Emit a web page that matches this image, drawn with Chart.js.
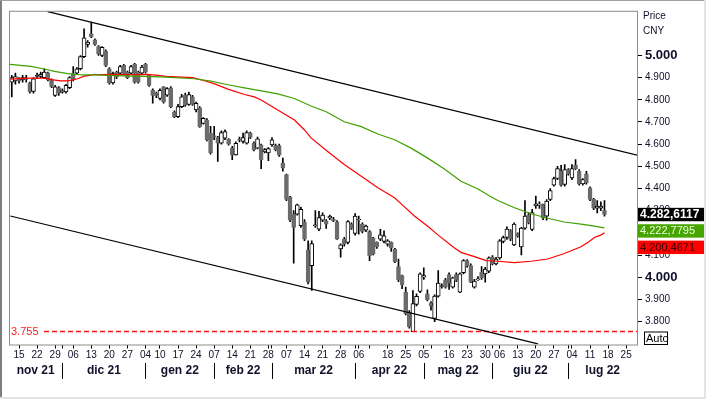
<!DOCTYPE html>
<html>
<head>
<meta charset="utf-8">
<script src="https://cdn.jsdelivr.net/npm/chart.js@4"></script>
<style>
  html, body { margin: 0; padding: 0; background: #fff; }
  canvas { display: block; }
</style>
</head>
<body>
<canvas id="chart" width="706" height="399"></canvas>
<script>
// trading-day index of the first candle (0 = 15 nov 21)
const firstIdx = -2;

const opens = [
  4.880, 4.885, 4.895, 4.890, 4.895, 4.876, 4.838, 4.905, 4.905, 4.900,
  4.920, 4.890, 4.820, 4.855, 4.835, 4.836, 4.855, 4.918, 4.920, 4.940,
  4.995, 5.050, 5.097, 5.070, 5.040, 5.000, 5.020, 4.940, 4.876, 4.925,
  4.920, 4.955, 4.925, 4.920, 4.960, 4.925, 4.920, 4.960, 4.910, 4.843,
  4.830, 4.806, 4.858, 4.821, 4.854, 4.746, 4.724, 4.769, 4.821, 4.779,
  4.813, 4.754, 4.764, 4.694, 4.709, 4.649, 4.639, 4.630, 4.604, 4.627,
  4.622, 4.582, 4.552, 4.622, 4.612, 4.604, 4.649, 4.604, 4.582, 4.597,
  4.565, 4.560, 4.597, 4.594, 4.594, 4.515, 4.463, 4.361, 4.284, 4.284,
  4.232, 4.249, 4.122, 4.052, 4.232, 4.217, 4.257, 4.254, 4.266, 4.262,
  4.250, 4.127, 4.172, 4.157, 4.239, 4.197, 4.258, 4.239, 4.212, 4.206,
  4.176, 4.157, 4.172, 4.161, 4.149, 4.157, 4.127, 4.048, 4.007, 3.933,
  3.843, 3.754, 3.877, 3.936, 4.000, 3.925, 3.884, 3.814, 3.914, 3.958,
  3.988, 4.012, 3.955, 4.012, 3.933, 4.020, 4.075, 4.052, 3.955, 3.988,
  4.022, 4.015, 4.027, 4.090, 4.060, 4.087, 4.161, 4.179, 4.209, 4.146,
  4.197, 4.137, 4.221, 4.281, 4.216, 4.321, 4.325, 4.328, 4.275, 4.351,
  4.415, 4.445, 4.478, 4.418, 4.485, 4.448, 4.505, 4.478, 4.421, 4.466,
  4.403, 4.351, 4.311, 4.311, 4.300
];
const highs = [
  4.910, 4.920, 4.900, 4.910, 4.910, 4.880, 4.900, 4.920, 4.925, 4.940,
  4.925, 4.895, 4.865, 4.860, 4.850, 4.870, 4.905, 4.950, 4.945, 5.000,
  5.120, 5.067, 5.150, 5.075, 5.045, 5.040, 5.025, 4.945, 4.925, 4.930,
  4.955, 4.960, 4.930, 4.955, 4.965, 4.930, 4.955, 4.965, 4.915, 4.850,
  4.835, 4.850, 4.860, 4.855, 4.860, 4.750, 4.780, 4.825, 4.830, 4.835,
  4.820, 4.790, 4.770, 4.720, 4.715, 4.680, 4.680, 4.635, 4.660, 4.665,
  4.625, 4.590, 4.610, 4.632, 4.650, 4.660, 4.655, 4.610, 4.632, 4.600,
  4.580, 4.585, 4.630, 4.600, 4.600, 4.537, 4.465, 4.365, 4.300, 4.330,
  4.316, 4.260, 4.164, 4.164, 4.300, 4.297, 4.290, 4.260, 4.280, 4.270,
  4.255, 4.150, 4.180, 4.255, 4.245, 4.287, 4.276, 4.245, 4.235, 4.210,
  4.180, 4.160, 4.216, 4.209, 4.170, 4.160, 4.130, 4.082, 4.010, 3.955,
  3.850, 3.940, 3.925, 4.020, 4.042, 3.943, 3.890, 3.920, 4.030, 3.970,
  3.995, 4.020, 4.000, 4.020, 4.020, 4.080, 4.080, 4.060, 3.990, 4.003,
  4.048, 4.045, 4.092, 4.097, 4.090, 4.170, 4.185, 4.227, 4.215, 4.245,
  4.200, 4.225, 4.346, 4.290, 4.306, 4.366, 4.340, 4.330, 4.350, 4.400,
  4.452, 4.500, 4.505, 4.508, 4.490, 4.508, 4.530, 4.485, 4.445, 4.478,
  4.408, 4.356, 4.346, 4.340, 4.346
];
const lows = [
  4.813, 4.870, 4.875, 4.880, 4.880, 4.830, 4.830, 4.895, 4.900, 4.895,
  4.885, 4.855, 4.815, 4.820, 4.830, 4.830, 4.850, 4.885, 4.915, 4.935,
  4.990, 5.037, 5.080, 5.045, 5.000, 4.995, 4.950, 4.870, 4.870, 4.895,
  4.915, 4.910, 4.895, 4.915, 4.875, 4.875, 4.915, 4.920, 4.860, 4.785,
  4.810, 4.800, 4.785, 4.815, 4.765, 4.720, 4.720, 4.765, 4.770, 4.775,
  4.775, 4.745, 4.675, 4.690, 4.615, 4.555, 4.620, 4.522, 4.600, 4.620,
  4.595, 4.530, 4.550, 4.610, 4.605, 4.600, 4.625, 4.570, 4.578, 4.490,
  4.560, 4.525, 4.590, 4.570, 4.545, 4.478, 4.345, 4.250, 4.063, 4.280,
  4.225, 4.165, 3.970, 3.940, 4.225, 4.210, 4.250, 4.220, 4.260, 4.250,
  4.170, 4.090, 4.140, 4.150, 4.215, 4.190, 4.194, 4.200, 4.205, 4.075,
  4.100, 4.130, 4.165, 4.155, 4.140, 4.116, 4.065, 3.980, 3.948, 3.830,
  3.770, 3.754, 3.870, 3.930, 3.990, 3.893, 3.851, 3.800, 3.910, 3.950,
  3.950, 3.945, 3.950, 3.980, 3.930, 4.015, 4.045, 3.975, 3.950, 3.985,
  3.990, 3.978, 4.020, 4.055, 4.055, 4.080, 4.155, 4.170, 4.165, 4.142,
  4.180, 4.100, 4.215, 4.240, 4.210, 4.310, 4.310, 4.260, 4.257, 4.345,
  4.410, 4.440, 4.410, 4.410, 4.460, 4.440, 4.485, 4.415, 4.415, 4.420,
  4.345, 4.305, 4.290, 4.300, 4.275
];
const closes = [
  4.900, 4.905, 4.885, 4.900, 4.892, 4.836, 4.895, 4.910, 4.915, 4.925,
  4.890, 4.860, 4.858, 4.830, 4.840, 4.865, 4.900, 4.890, 4.940, 4.995,
  5.080, 5.060, 5.085, 5.050, 5.007, 5.037, 4.955, 4.876, 4.918, 4.903,
  4.950, 4.918, 4.900, 4.950, 4.880, 4.880, 4.948, 4.925, 4.865, 4.820,
  4.820, 4.843, 4.790, 4.851, 4.769, 4.724, 4.769, 4.813, 4.776, 4.824,
  4.779, 4.784, 4.679, 4.716, 4.619, 4.560, 4.632, 4.604, 4.652, 4.657,
  4.600, 4.550, 4.604, 4.618, 4.630, 4.652, 4.630, 4.575, 4.624, 4.530,
  4.575, 4.580, 4.620, 4.575, 4.550, 4.493, 4.351, 4.257, 4.224, 4.326,
  4.306, 4.172, 3.978, 4.152, 4.236, 4.269, 4.280, 4.239, 4.276, 4.255,
  4.172, 4.146, 4.149, 4.251, 4.221, 4.276, 4.262, 4.206, 4.230, 4.097,
  4.105, 4.137, 4.191, 4.187, 4.164, 4.131, 4.070, 3.988, 3.966, 3.836,
  3.776, 3.881, 3.914, 4.015, 4.007, 3.899, 3.869, 3.915, 3.973, 3.962,
  3.955, 3.973, 3.997, 3.985, 4.015, 4.075, 4.052, 3.978, 3.982, 3.993,
  3.997, 4.037, 4.087, 4.060, 4.082, 4.164, 4.179, 4.217, 4.172, 4.239,
  4.187, 4.221, 4.276, 4.246, 4.291, 4.331, 4.330, 4.266, 4.343, 4.391,
  4.445, 4.490, 4.415, 4.485, 4.466, 4.490, 4.490, 4.421, 4.440, 4.426,
  4.351, 4.311, 4.321, 4.321, 4.2826117
];

// moving averages (trading-day index, price)
const greenX = [-2.5, 3.3, 7, 9.8, 13.5, 17.2, 20.8, 24.5, 31.9, 39.3, 48.5, 53.1, 57.8, 62.4, 67, 71.6, 76.2,
  80.8, 85, 90, 94.7, 99.3, 103.9, 108.5, 113.1, 117.7, 122.3, 127, 130.6, 132.5, 137.1, 141.7, 146.3, 150.9,
  155.5, 159.2, 162];
const greenY = [4.960, 4.951, 4.939, 4.928, 4.918, 4.912, 4.912, 4.910, 4.907, 4.903, 4.895, 4.884, 4.868, 4.854,
  4.840, 4.827, 4.806, 4.772, 4.746, 4.701, 4.679, 4.646, 4.620, 4.582, 4.537, 4.488, 4.433, 4.398, 4.363, 4.346,
  4.313, 4.286, 4.266, 4.249, 4.239, 4.230, 4.2227795];

const redX = [-2.4, 2.4, 7, 8.9, 11.6, 13.5, 16.2, 18.1, 20.8, 25.5, 31.9, 35.6, 38.4, 40.7, 48.1, 51.3, 54.1,
  57.8, 62.4, 65.1, 67, 71.6, 76.2, 79, 80.8, 85.4, 90, 94.7, 99.3, 103.9, 106.2, 109.4, 113.1, 115.9, 120.5,
  122.3, 126, 129.3, 132.5, 137.1, 141.7, 146.3, 150.9, 155.5, 157.4, 159.2, 161.1, 162];
const redY = [4.893, 4.898, 4.898, 4.891, 4.885, 4.885, 4.895, 4.907, 4.913, 4.915, 4.913, 4.915, 4.910, 4.906,
  4.900, 4.886, 4.872, 4.848, 4.824, 4.813, 4.799, 4.754, 4.709, 4.664, 4.628, 4.567, 4.508, 4.455, 4.403, 4.358,
  4.324, 4.276, 4.230, 4.191, 4.132, 4.112, 4.093, 4.075, 4.072, 4.066, 4.072, 4.082, 4.107, 4.137, 4.157, 4.179,
  4.191, 4.2004671];

// trend channel end points (index, price)
const trendUpper = [[7.94, 5.198], [171.3, 4.549]];
const trendLower = [[-2.4, 4.276], [143.6, 3.699]];

const supportLevel = 3.755;
const supportFrom = 6.9;

const yTicks = [3.8, 3.9, 4.0, 4.1, 4.2, 4.3, 4.4, 4.5, 4.6, 4.7, 4.8, 4.9, 5.0];

const tickIdx = [0, 5, 10, 12, 15, 20, 25, 30, 35, 39, 44, 49, 54, 59, 64, 69, 70, 74, 79, 84, 89, 93, 94, 97,
  102, 107, 112, 114, 119, 124, 129, 131, 133, 138, 143, 148, 152, 153, 158, 163, 168];
const tickLabels = ['15', '22', '29', '', '06', '13', '20', '27', '04', '10', '17', '24', '07', '14', '21', '28',
  '', '07', '14', '21', '28', '', '06', '', '18', '25', '05', '', '16', '23', '30', '', '06', '13', '20', '27', '',
  '04', '11', '18', '25'];

const monthStarts = [12, 35, 54, 70, 93, 112, 131, 152];
const monthNames = ['nov 21', 'dic 21', 'gen 22', 'feb 22', 'mar 22', 'apr 22', 'mag 22', 'giu 22', 'lug 22'];

const FONT = 'Arial, "Liberation Sans", sans-serif';
const TEXT = '#10102a';

const idxs = opens.map((_, i) => firstIdx + i);
const isUp = closes.map((c, i) => c >= opens[i]);
const pts = (xs, ys) => xs.map((x, i) => ({ x, y: ys[i] }));

function fmtPrice(v) {
  const s = v.toFixed(7);
  return s.slice(0, 5) + ',' + s.slice(5);
}

const decor = {
  id: 'decor',
  beforeDraw(chart) {
    const ctx = chart.ctx;
    ctx.save();
    ctx.fillStyle = '#fff';
    ctx.fillRect(0, 0, chart.width, chart.height);
    ctx.restore();
  },
  afterDraw(chart) {
    const { ctx, chartArea: a, scales: { x, y } } = chart;
    ctx.save();

    // plot frame
    ctx.strokeStyle = '#8c8c8c';
    ctx.lineWidth = 1;
    ctx.strokeRect(a.left + 0.5, a.top + 0.5, a.right - a.left, a.bottom - a.top);

    // support label
    const ly = y.getPixelForValue(supportLevel);
    ctx.font = '11px ' + FONT;
    ctx.fillStyle = '#ff2020';
    ctx.textBaseline = 'middle';
    ctx.textAlign = 'left';
    ctx.fillText(supportLevel.toFixed(3), a.left + 2, ly);

    // month row
    const bounds = [a.left, ...monthStarts.map(m => x.getPixelForValue(m)), a.right];
    ctx.strokeStyle = '#000';
    ctx.beginPath();
    monthStarts.forEach(m => {
      const px = Math.round(x.getPixelForValue(m)) + 0.5;
      ctx.moveTo(px, 363);
      ctx.lineTo(px, 379);
    });
    ctx.stroke();
    ctx.font = 'bold 12px ' + FONT;
    ctx.fillStyle = TEXT;
    ctx.textAlign = 'center';
    monthNames.forEach((n, i) => {
      ctx.fillText(n, (bounds[i] + bounds[i + 1]) / 2, 371);
    });

    // header of the price axis
    ctx.textAlign = 'left';
    ctx.font = '10px ' + FONT;
    ctx.fillText('Price', a.right + 6, 16);
    ctx.fillText('CNY', a.right + 6, 31);

    // last value boxes
    const boxes = [
      { v: closes[closes.length - 1], bg: '#000', fg: '#fff', font: 'bold 12px ' },
      { v: greenY[greenY.length - 1], bg: '#47a500', fg: '#eaffe0', font: '11px ' },
      { v: redY[redY.length - 1], bg: '#ff0000', fg: '#3a0000', font: '11px ' }
    ];
    let prevBottom = -Infinity;
    boxes.forEach(b => {
      const top = Math.max(y.getPixelForValue(b.v) - 6.7, prevBottom + 3);
      ctx.fillStyle = b.bg;
      ctx.fillRect(a.right + 1, top, 66, 13.4);
      ctx.fillStyle = b.fg;
      ctx.font = b.font + FONT;
      ctx.fillText(fmtPrice(b.v), a.right + 3, top + 7);
      prevBottom = top + 13.4;
    });

    // Auto button
    ctx.fillStyle = '#fff';
    ctx.fillRect(a.right + 7.5, a.bottom - 12.5, 23, 12.5);
    ctx.strokeStyle = '#000';
    ctx.strokeRect(a.right + 7.5, a.bottom - 12.5, 23, 12.5);
    ctx.fillStyle = '#000';
    ctx.font = '11px ' + FONT;
    ctx.fillText('Auto', a.right + 9, a.bottom - 6);

    // outer frame
    ctx.fillStyle = '#7d7d7d';
    ctx.fillRect(0, 0, 2, chart.height);
    ctx.fillStyle = '#a0a0a0';
    ctx.fillRect(0, 0, chart.width, 1);
    ctx.fillStyle = '#e4e4e4';
    ctx.fillRect(chart.width - 2, 0, 2, chart.height);
    ctx.fillRect(0, chart.height - 2, chart.width, 2);
    ctx.restore();
  }
};

new Chart(document.getElementById('chart'), {
  type: 'bar',
  data: {
    datasets: [
      {
        type: 'line', data: pts(greenX, greenY), borderColor: '#3fa000', borderWidth: 1.2,
        pointRadius: 0, tension: 0, order: 0
      },
      {
        type: 'line', data: pts(redX, redY), borderColor: '#ff0000', borderWidth: 1.2,
        pointRadius: 0, tension: 0, order: 0
      },
      {
        type: 'line', data: trendUpper.map(p => ({ x: p[0], y: p[1] })), borderColor: '#000',
        borderWidth: 1.2, pointRadius: 0, order: 0
      },
      {
        type: 'line', data: trendLower.map(p => ({ x: p[0], y: p[1] })), borderColor: '#000',
        borderWidth: 1.2, pointRadius: 0, order: 0
      },
      {
        type: 'line', data: [{ x: supportFrom, y: supportLevel }, { x: 171, y: supportLevel }],
        borderColor: '#ff1010', backgroundColor: '#ff1010', borderWidth: 1.5, borderDash: [5, 3],
        pointRadius: 0, order: 0
      },
      {
        label: 'body',
        data: idxs.map((x, i) => ({ x, y: [opens[i], closes[i]] })),
        backgroundColor: isUp.map(u => u ? '#fff' : '#6b6b6b'),
        borderColor: isUp.map(u => u ? '#000' : '#6b6b6b'),
        borderWidth: 1, borderSkipped: false, barThickness: 4, minBarLength: 1,
        grouped: false, order: 1
      },
      {
        label: 'wick',
        data: idxs.map((x, i) => ({ x, y: [lows[i], highs[i]] })),
        backgroundColor: '#000', borderWidth: 0, barThickness: 1,
        grouped: false, order: 2
      }
    ]
  },
  options: {
    responsive: false,
    animation: false,
    devicePixelRatio: 1,
    layout: { padding: { left: 9, top: 8, right: 0, bottom: 0 } },
    plugins: { legend: { display: false }, tooltip: { enabled: false } },
    scales: {
      x: {
        type: 'linear', min: -2.77, max: 171, offset: false,
        afterBuildTicks: s => { s.ticks = tickIdx.map(v => ({ value: v })); },
        afterFit: s => { s.height = 54.5; },
        ticks: {
          autoSkip: false, maxRotation: 0, minRotation: 0, padding: 1, color: TEXT,
          font: { family: FONT, size: 10 },
          callback: (v, i) => tickLabels[i]
        },
        grid: { offset: false, drawOnChartArea: false, drawTicks: true, tickLength: 4, color: '#000' },
        border: { display: false }
      },
      y: {
        position: 'right', min: 3.6965, max: 5.2014,
        afterBuildTicks: s => { s.ticks = yTicks.map(v => ({ value: v })); },
        afterFit: s => { s.width = 69; },
        ticks: {
          padding: 3, color: TEXT,
          font: c => (c.tick && Math.abs(c.tick.value - Math.round(c.tick.value)) < 1e-9)
            ? { family: FONT, size: 13, weight: 'bold' }
            : { family: FONT, size: 10 },
          callback: v => v.toFixed(3)
        },
        grid: { drawOnChartArea: false, tickLength: 5, color: '#000' },
        border: { display: false }
      }
    }
  },
  plugins: [decor]
});
</script>
</body>
</html>
